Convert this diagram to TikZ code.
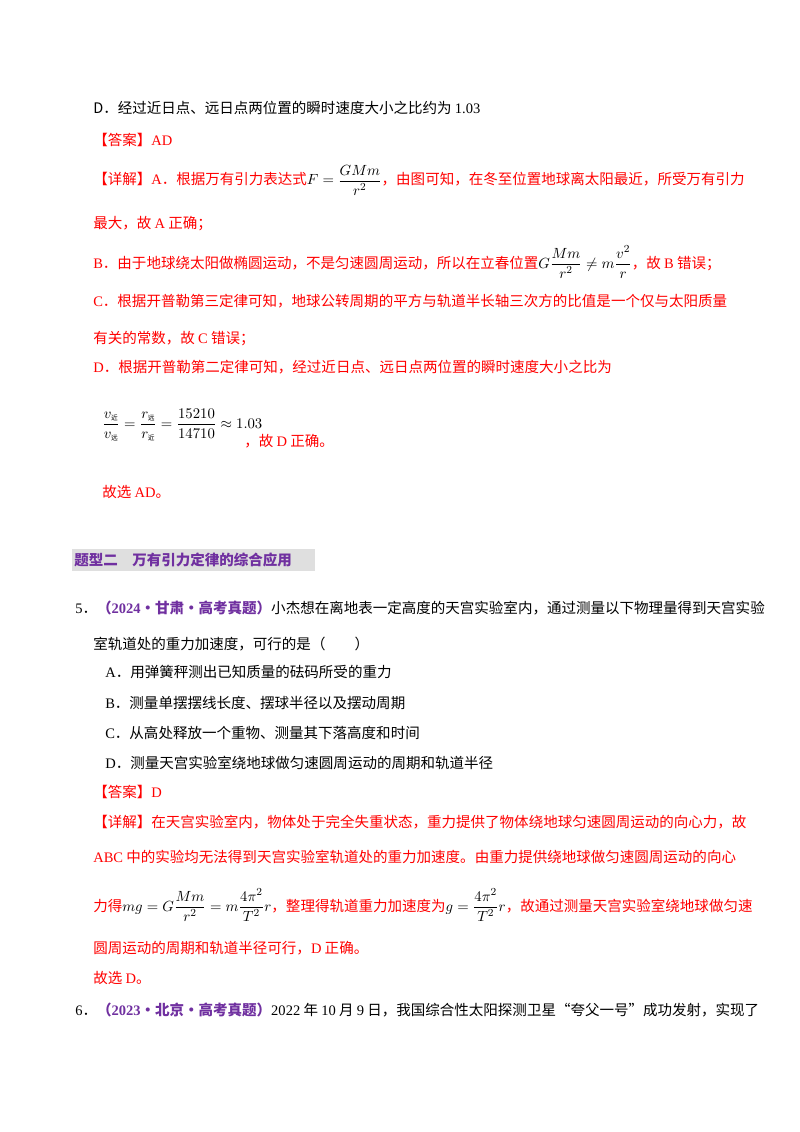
\documentclass[tikz,border=0pt]{standalone}
\usepackage{fontspec}
\setmainfont{Noto Sans CJK SC}
\newfontfamily\lat{Liberation Serif}
\usepackage{amsmath}
\definecolor{myred}{RGB}{255,0,0}
\definecolor{mypurple}{RGB}{112,48,160}
\newcommand{\zs}[1]{\mbox{\fontsize{5}{5}\selectfont #1}}
\begin{document}
\begin{tikzpicture}[x=0.744pt,y=-0.744pt,
  t/.style={anchor=west,inner sep=0pt,font=\fontsize{10.8}{12}\selectfont},
  r/.style={t,text=myred}]
\useasboundingbox[fill=white] (0,0) rectangle (800,1132);
\node[t] (l1) at (93,108) {D．经过近日点、远日点两位置的瞬时速度大小之比约为 {\lat 1.03}};
\node[r] (l2) at (93,140) {【答案】{\lat AD}};
\node[r] (l3) at (93,180) {【详解】{\lat A}．根据万有引力表达式\textcolor{black}{$F=\dfrac{GMm}{r^2}$}，由图可知，在冬至位置地球离太阳最近，所受万有引力};
\node[r] (l4) at (93,224) {最大，故 {\lat A} 正确；};
\node[r] (l5) at (93,262) {{\lat B}．由于地球绕太阳做椭圆运动，不是匀速圆周运动，所以在立春位置\textcolor{black}{$G\dfrac{Mm}{r^2}\neq m\dfrac{v^2}{r}$}，故 {\lat B} 错误；};
\node[r] (l6) at (93,301) {{\lat C}．根据开普勒第三定律可知，地球公转周期的平方与轨道半长轴三次方的比值是一个仅与太阳质量};
\node[r] (l7) at (93,339) {有关的常数，故 {\lat C} 错误；};
\node[r] (l8) at (93,367) {{\lat D}．根据开普勒第二定律可知，经过近日点、远日点两位置的瞬时速度大小之比为};
\node[t] (l9) at (102,425) {$\dfrac{v_{\zs{近}}}{v_{\zs{远}}}=\dfrac{r_{\zs{远}}}{r_{\zs{近}}}=\dfrac{15210}{14710}\approx1.03$};
\node[r] (l10) at (244,441) {，故 {\lat D} 正确。};
\node[r] (l11) at (102,492) {故选 {\lat AD}。};
\fill[gray!25] (72,549) rectangle (315,571);
\node[t,text=mypurple,font=\fontsize{10.8}{12}\selectfont\bfseries] (h) at (74,560) {题型二\quad 万有引力定律的综合应用};
\node[t] (q5) at (75,608) {{\lat 5}．\textcolor{mypurple}{\bfseries （{\lat 2024}·甘肃·高考真题）}小杰想在离地表一定高度的天宫实验室内，通过测量以下物理量得到天宫实验};
\node[t] (q5b) at (93,644) {室轨道处的重力加速度，可行的是（\qquad）};
\node[t] (oa) at (105,672) {{\lat A}．用弹簧秤测出已知质量的砝码所受的重力};
\node[t] (ob) at (105,703) {{\lat B}．测量单摆摆线长度、摆球半径以及摆动周期};
\node[t] (oc) at (105,733) {{\lat C}．从高处释放一个重物、测量其下落高度和时间};
\node[t] (od) at (105,763) {{\lat D}．测量天宫实验室绕地球做匀速圆周运动的周期和轨道半径};
\node[r] (a5) at (93,792) {【答案】{\lat D}};
\node[r] (d5) at (93,822) {【详解】在天宫实验室内，物体处于完全失重状态，重力提供了物体绕地球匀速圆周运动的向心力，故};
\node[r] (d5b) at (93,857) {{\lat ABC} 中的实验均无法得到天宫实验室轨道处的重力加速度。由重力提供绕地球做匀速圆周运动的向心};
\node[r] (d5c) at (93,905) {力得\textcolor{black}{$mg=G\dfrac{Mm}{r^2}=m\dfrac{4\pi^2}{T^2}r$}，整理得轨道重力加速度为\textcolor{black}{$g=\dfrac{4\pi^2}{T^2}r$}，故通过测量天宫实验室绕地球做匀速};
\node[r] (d5d) at (93,948) {圆周运动的周期和轨道半径可行，{\lat D} 正确。};
\node[r] (d5e) at (93,978) {故选 {\lat D}。};
\node[t] (q6) at (75,1010) {{\lat 6}．\textcolor{mypurple}{\bfseries （{\lat 2023}·北京·高考真题）}{\lat 2022} 年 {\lat 10} 月 {\lat 9} 日，我国综合性太阳探测卫星“夸父一号”成功发射，实现了};
\end{tikzpicture}
\end{document}
